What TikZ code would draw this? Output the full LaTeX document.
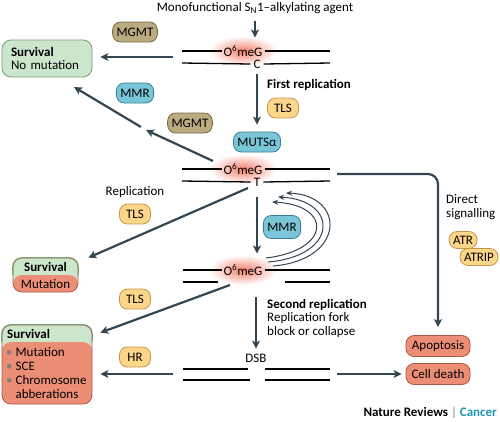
\documentclass[tikz,border=0pt]{standalone}
\usepackage{fontspec}
\setmainfont{Carlito}
\usepackage{xcolor}
\usepackage{tikz}
\usetikzlibrary{arrows.meta,positioning,calc}
\definecolor{slate}{RGB}{52,70,82}
\definecolor{mgmtfill}{RGB}{186,172,128}
\definecolor{mgmtline}{RGB}{118,104,68}
\definecolor{mmrfill}{RGB}{122,198,216}
\definecolor{mmrline}{RGB}{58,128,148}
\definecolor{tlsfill}{RGB}{252,214,138}
\definecolor{tlsline}{RGB}{196,150,72}
\definecolor{survfill}{RGB}{204,230,204}
\definecolor{survline}{RGB}{120,160,120}
\definecolor{deadfill}{RGB}{236,142,118}
\definecolor{deadline}{RGB}{176,88,66}
\definecolor{glow}{RGB}{242,128,108}
\definecolor{cancer}{RGB}{30,150,180}
\tikzset{
  base/.style   = {inner sep=1pt, font=\fontsize{13}{14}\selectfont},
  nt/.style     = {inner sep=0pt, font=\fontsize{13}{14}\selectfont},
  pill/.style   = {rectangle, rounded corners=8pt, line width=0.8pt, inner xsep=4pt,
                   inner ysep=2pt, minimum height=20pt, font=\fontsize{13}{14}\selectfont},
  mgmt/.style   = {pill, fill=mgmtfill, draw=mgmtline},
  mmr/.style    = {pill, fill=mmrfill, draw=mmrline},
  tls/.style    = {pill, fill=tlsfill, draw=tlsline, minimum width=31pt},
  fate/.style   = {pill, fill=deadfill, draw=deadline, minimum width=64pt, minimum height=21pt},
  surv/.style   = {rectangle, rounded corners=9pt, line width=0.8pt, fill=survfill, draw=survline},
  survmut/.style= {surv, draw=deadline,
                   path picture={\fill[deadfill] ([yshift=-17pt]path picture bounding box.north west)
                                 rectangle (path picture bounding box.south east);}},
  survtop/.style= {draw=survline, line width=0.8pt, rounded corners=9pt},
  strand/.style = {line width=1.3pt, draw=black},
  fl/.style     = {-{Stealth[length=8pt,width=8pt,inset=2pt]}, line width=2.2pt, draw=slate},
  loopfl/.style = {-{Stealth[length=6pt,width=5pt]}, line width=1pt, draw=slate},
}

\begin{document}
\begin{tikzpicture}[x=1pt, y=-1pt]
    \useasboundingbox (0,0) rectangle (500,421);
    % glow behind the lesion
    \foreach \y in {51,169,270}
      \shade[inner color=glow, outer color=white] (243,\y) ellipse (34 and 15);
    \node[base] (agent) at (255,8) {Monofunctional S\textsubscript{N}1–alkylating agent};
    % first duplex
    \node[nt] (og1) at (243,51) {O\textsuperscript{6}meG};
    \node[nt] (c1) at (257,64) {C};
    \draw[strand] (182,51) -- ([xshift=-1pt]og1.west);
    \draw[strand] ([xshift=2pt]og1.east) -- (330,51);
    \draw[strand] (182,63) -- ([xshift=-3pt]c1.west);
    \draw[strand] ([xshift=3pt]c1.east) -- (330,63);
    % second duplex
    \node[nt] (og2) at (243,169) {O\textsuperscript{6}meG};
    \node[nt] (t2) at (257,182) {T};
    \draw[strand] (182,169) -- ([xshift=-1pt]og2.west);
    \draw[strand] ([xshift=2pt]og2.east) -- (330,169);
    \draw[strand] (182,181) -- ([xshift=-3pt]t2.west);
    \draw[strand] ([xshift=3pt]t2.east) -- (330,181);
    % third duplex
    \node[nt] (og3) at (243,270) {O\textsuperscript{6}meG};
    \draw[strand] (183,270) -- ([xshift=-1pt]og3.west);
    \draw[strand] ([xshift=2pt]og3.east) -- (330,270);
    \draw[strand] (183,282) -- (218,282);
    \draw[strand] (285,282) -- (330,282);
    % broken duplex
    \node[base] (dsb) at (256,358) {DSB};
    \draw[strand] (183,369) -- (248,369);
    \draw[strand] (265,369) -- (330,369);
    \draw[strand] (183,380) -- (250,380);
    \draw[strand] (265,380) -- (330,380);

    % enzymes
    \node[mgmt] (mgmt1) at (135,32) {MGMT};
    \node[mmr]  (mmr1)  at (135,93) {MMR};
    \node[mgmt] (mgmt2) at (190,123) {MGMT};
    \node[tls]  (tls1)  at (283,108) {TLS};
    \node[mmr]  (mutsa) at (257,142) {MUTSα};
    \node[mmr, minimum height=23pt] (mmr2) at (282,227) {MMR};
    \node[tls]  (tls2)  at (135,214) {TLS};
    \node[tls]  (tls3)  at (135,299) {TLS};
    \node[tls]  (hr)    at (135,357) {HR};
    \node[tls, minimum height=17pt, minimum width=27pt] (atr) at (463,240) {ATR};
    \node[tls, minimum height=17pt] (atrip) at (479,257) {ATRIP};
    \node[fate] (apop)  at (438,346) {Apoptosis};
    \node[fate] (death) at (438,374) {Cell death};

    % outcomes
    \node[surv, minimum width=90pt, minimum height=37pt, text width=72pt, align=left,
          inner xsep=9pt, font=\fontsize{13}{13.5}\selectfont] (surv1) at (47,58.5)
          {\textbf{Survival}\\No mutation};
    \node[survmut, minimum width=65pt, minimum height=34pt] (surv2) at (45.5,275) {};
    \draw[survtop] ([yshift=-17pt]surv2.north west) |- (surv2.north east) -- ([yshift=-17pt]surv2.north east);
    \node[base] (s2head) at (45.5,267) {\textbf{Survival}};
    \node[base] (s2body) at (45.5,284) {Mutation};
    \node[survmut, minimum width=90pt, minimum height=79pt] (surv3) at (47,364.5) {};
    \draw[survtop] ([yshift=-17pt]surv3.north west) |- (surv3.north east) -- ([yshift=-17pt]surv3.north east);
    \node[base, anchor=west] (s3head) at (6,334) {\textbf{Survival}};
    \node[base, anchor=north west, align=left, font=\fontsize{13}{14}\selectfont] (s3body) at (5,346)
          {{\color{gray}\textbullet} Mutation\\{\color{gray}\textbullet} SCE\\{\color{gray}\textbullet} Chromosome\\
           \hphantom{\textbullet{} }abberations};

    % labels
    \node[base, anchor=west] (firstrep) at (266,85) {\textbf{First replication}};
    \node[base] (repl) at (135,192) {Replication};
    \node[base, anchor=west, align=left, font=\fontsize{13}{13.5}\selectfont] (direct) at (445,207)
          {Direct\\signalling};
    \node[base, anchor=north west, align=left, font=\fontsize{13}{13.5}\selectfont] (secrep) at (266,298)
          {\textbf{Second replication}\\Replication fork\\block or collapse};
    \node[anchor=east, inner sep=1pt, font=\fontsize{13}{14}\selectfont] (credit) at (498,413)
          {\textbf{Nature Reviews} {\color{gray}|} \textbf{\color{cancer}Cancer}};

    % main flow
    \draw[fl, shorten <=6pt, shorten >=8pt] (agent.south) -- (agent.south |- og1.north);
    \draw[fl, shorten <=6pt, shorten >=7pt] (c1.south) -- (mutsa.north);
    \draw[fl, shorten <=11pt, shorten >=11pt] (t2.south) -- (og3.north -| t2.south);
    \coordinate (fork) at (256,289);
    \draw[fl, shorten <=8pt, shorten >=4pt] (fork) -- (dsb.north);
    % repair to survival
    \coordinate (d1) at (182,57);
    \draw[fl, shorten <=9pt, shorten >=8pt] (d1) -- (surv1.east |- d1);
    \coordinate (o2) at (213,161);
    \coordinate (mid) at (146,130);
    \coordinate (s1) at (74,87);
    \draw[fl] (o2) -- (mid);
    \draw[fl, shorten <=6pt] (mid) -- (s1);
    % tolerance
    \coordinate (o2b) at (248,188);
    \draw[fl] (o2b) -- ($(surv2.north east)+(10,0)$);
    \coordinate (o3) at (230,285);
    \draw[fl] (o3) -- ($(surv3.north east)+(8,8)$);
    \coordinate (dsbl) at (182,374);
    \draw[fl, shorten <=9pt, shorten >=8pt] (dsbl) -- (surv3.east |- dsbl);
    \coordinate (dsbr) at (330,374);
    \draw[fl, shorten <=7pt, shorten >=4pt] (dsbr) -- (death.west);
    % signalling
    \coordinate (sig) at (337,174);
    \draw[fl, rounded corners=10pt, shorten >=8pt] (sig) -| (apop.north);
    % futile cycles
    \draw[loopfl] (266,258) .. controls (332,250) and (332,205) .. (272,202);
    \draw[loopfl] (268,262) .. controls (339,256) and (339,200) .. (278,197);
    \draw[loopfl] (273,266) .. controls (346,260) and (346,195) .. (286,193);
\end{tikzpicture}
\end{document}
